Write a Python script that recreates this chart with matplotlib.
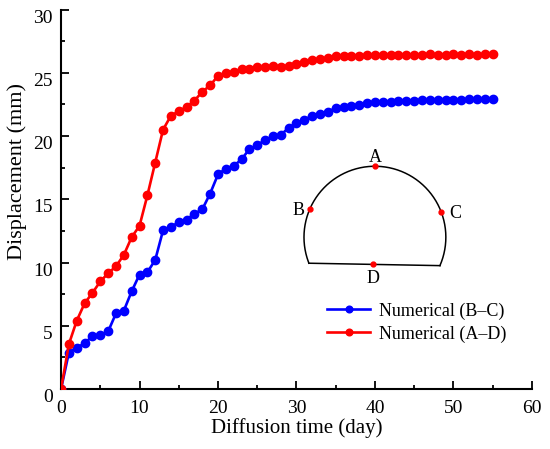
import numpy as np
import matplotlib.pyplot as plt
import matplotlib.transforms as mtransforms
from matplotlib.ticker import MultipleLocator

plt.rcParams['font.family'] = ['Liberation Serif', 'DejaVu Serif']

# diffusion time (day), one value per day
days = list(range(0, 56))

# displacement between B and C (mm)
disp_bc = [0.0, 2.88, 3.28, 3.6, 4.2, 4.29, 4.55, 5.98, 6.19, 7.72,
           9.05, 9.23, 10.2, 12.54, 12.8, 13.2, 13.39, 13.86, 14.2, 15.45,
           16.96, 17.43, 17.64, 18.15, 18.97, 19.26, 19.7, 19.97, 20.1, 20.63,
           21.03, 21.3, 21.59, 21.75, 21.93, 22.2, 22.33, 22.4, 22.46, 22.6,
           22.67, 22.67, 22.67, 22.75, 22.8, 22.8, 22.82, 22.86, 22.86, 22.86,
           22.88, 22.88, 22.9, 22.9, 22.93, 22.93]

# displacement between A and D (mm)
disp_ad = [0.0, 3.55, 5.4, 6.77, 7.6, 8.5, 9.15, 9.7, 10.6, 12.0,
           12.9, 15.3, 17.9, 20.5, 21.6, 21.96, 22.3, 22.8, 23.5, 24.0,
           24.76, 25.0, 25.1, 25.3, 25.32, 25.45, 25.45, 25.57, 25.48, 25.55,
           25.72, 25.85, 26.0, 26.1, 26.16, 26.32, 26.35, 26.35, 26.35, 26.4,
           26.42, 26.42, 26.42, 26.4, 26.42, 26.42, 26.42, 26.47, 26.44, 26.44,
           26.46, 26.42, 26.46, 26.44, 26.47, 26.46]

labels = ['Numerical (B\u2013C)', 'Numerical (A\u2013D)']
colors = ['#0000ff', '#ff0000']

fig = plt.figure(figsize=(5.5, 4.49), dpi=100)
ax = fig.add_axes([0.111, 0.1336, 0.856, 0.8452])

for y, lab, c in zip([disp_bc, disp_ad], labels, colors):
    ax.plot(days, y, color=c, lw=1.9, marker='o', ms=6, label=lab, zorder=3)

ax.set_xlim(0, 60)
ax.set_ylim(0, 30)
ax.xaxis.set_major_locator(MultipleLocator(10))
ax.xaxis.set_minor_locator(MultipleLocator(5))
ax.yaxis.set_major_locator(MultipleLocator(5))
ax.yaxis.set_minor_locator(MultipleLocator(2.5))
ax.tick_params(which='both', direction='in', width=1.3, labelsize=14)
ax.tick_params(which='major', length=5.5)
ax.tick_params(which='minor', length=3)
ax.tick_params(axis='x', which='major', pad=8)
ax.tick_params(axis='y', which='major', pad=6)
for s in ['top', 'right']:
    ax.spines[s].set_visible(False)
for s in ['left', 'bottom']:
    ax.spines[s].set_linewidth(1.5)

# y tick labels sit a little below their ticks in the original
shift = mtransforms.ScaledTranslation(0, -0.065, fig.dpi_scale_trans)
for lbl in ax.get_yticklabels():
    lbl.set_transform(lbl.get_transform() + shift)

ax.set_xlabel('Diffusion time (day)', fontsize=15, labelpad=1)
ax.set_ylabel('Displacement (mm)', fontsize=16)
ax.yaxis.set_label_coords(-0.073, 0.574)

# tunnel section sketch
cx, cy = 40.0, 12.0
rx, ry = 9.04, 5.61
t = np.radians(np.linspace(-23.6, 201.5, 200))
ax.plot(cx + rx * np.cos(t), cy + ry * np.sin(t), color='black', lw=1.1)
ax.plot([cx + rx * np.cos(t[-1]), cx + rx * np.cos(t[0])],
        [cy + ry * np.sin(t[-1]), cy + ry * np.sin(t[0])], color='black', lw=1.1)
pts = {'A': 90, 'B': 157, 'C': 20.5}
for k, a in pts.items():
    ax.plot(cx + rx * np.cos(np.radians(a)), cy + ry * np.sin(np.radians(a)),
            'o', color='red', ms=3.5, zorder=4)
ax.plot(39.8, 9.86, 'o', color='red', ms=3.5, zorder=4)
ax.text(40.0, 18.3, 'A', fontsize=13, ha='center', va='center')
ax.text(30.3, 14.15, 'B', fontsize=13, ha='center', va='center')
ax.text(50.2, 13.85, 'C', fontsize=13, ha='center', va='center')
ax.text(39.8, 8.7, 'D', fontsize=13, ha='center', va='center')

ax.legend(loc='upper left', bbox_to_anchor=(0.565, 0.228), frameon=False, fontsize=13,
          handlelength=2.4, handletextpad=0.45, labelspacing=0.3, borderpad=0,
          borderaxespad=0, markerscale=0.8)

fig.savefig('out.png', dpi=100)
